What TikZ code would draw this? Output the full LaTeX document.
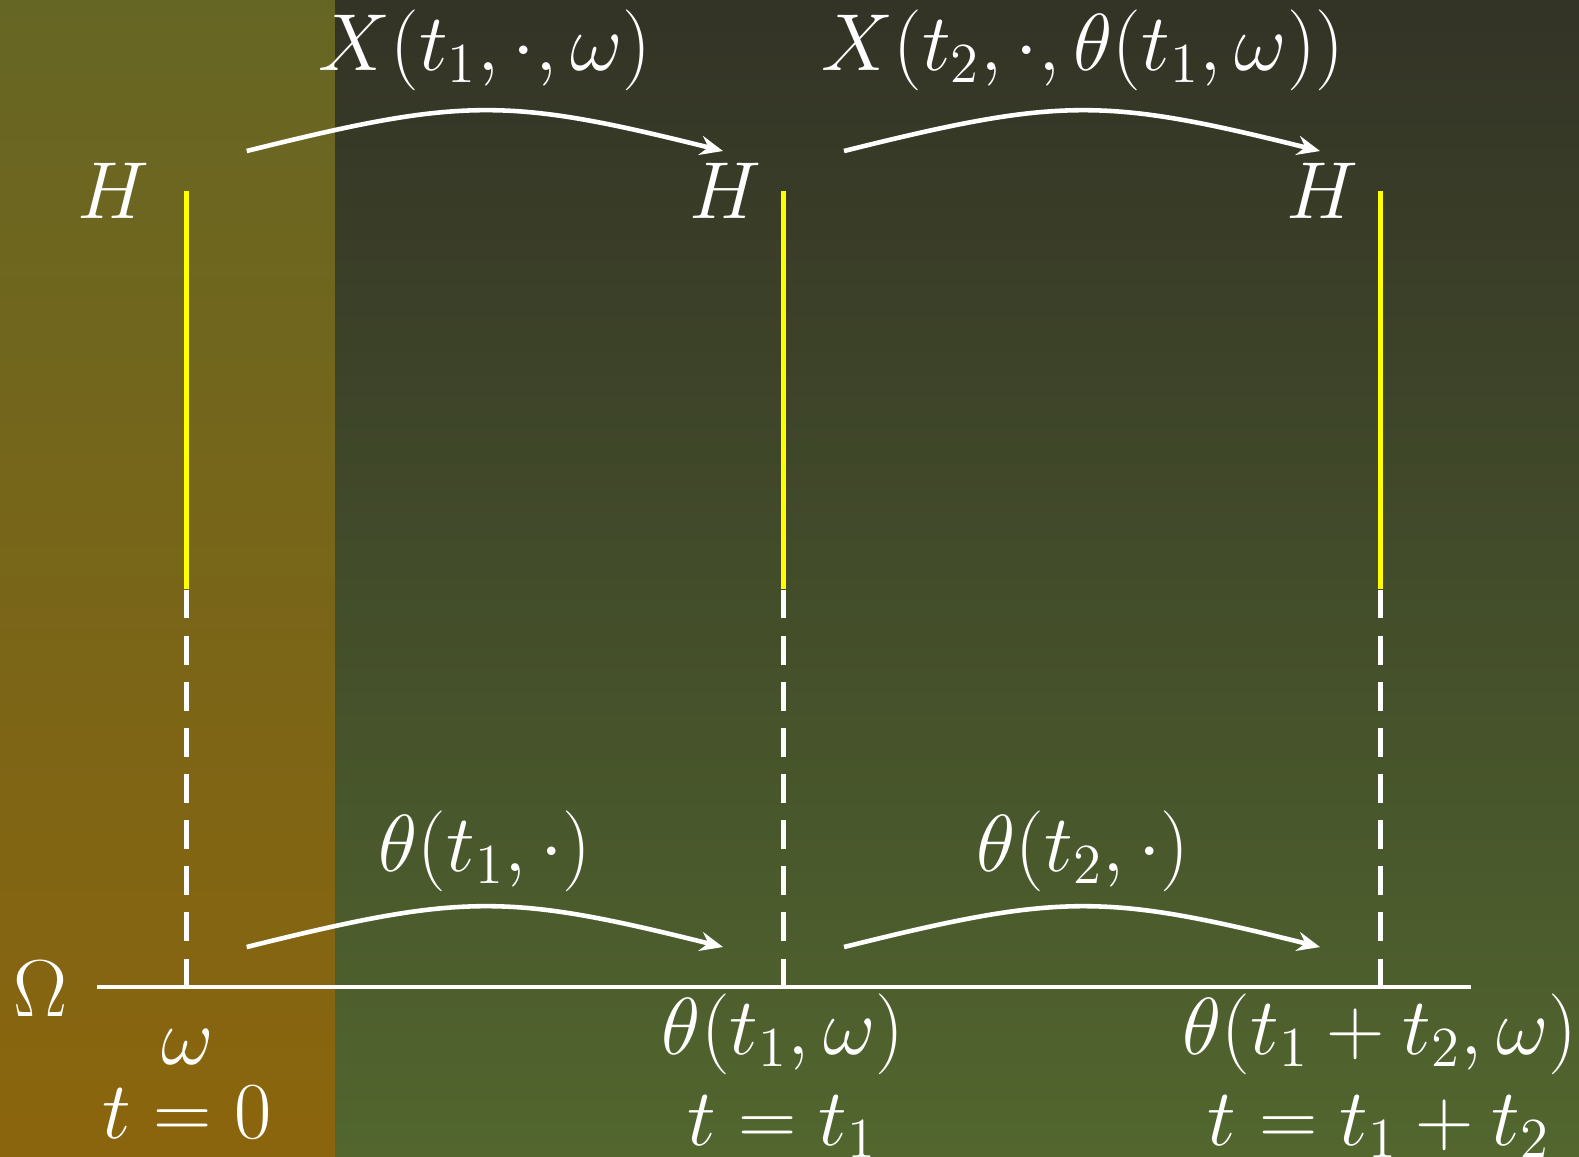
\documentclass[tikz,border=0pt]{standalone}
\usepackage{fix-cm}
\usetikzlibrary{arrows.meta}
\definecolor{lefttop}{RGB}{102,102,36}
\definecolor{leftbot}{RGB}{139,101,13}
\definecolor{righttop}{RGB}{51,51,38}
\definecolor{rightbot}{RGB}{82,102,46}
\definecolor{hyellow}{RGB}{255,255,0}
\tikzset{
  lbl/.style={text=white, font=\fontsize{23}{28}\selectfont, inner sep=0pt},
  fiber/.style={hyellow, line width=1.4pt},
  fiberdash/.style={white, line width=1.4pt, dash pattern=on 8.1pt off 5pt},
  axis/.style={white, line width=1.4pt},
  maparrow/.style={white, line width=1.3pt, -{Stealth[length=6.5pt,width=5.5pt,inset=2.2pt]}, out=14, in=166, looseness=1.2}
}
\begin{document}
\begin{tikzpicture}[x={(0.01cm,0)}, y={(0,-0.01cm)}]
\useasboundingbox (0,0) rectangle (1579,1156);
\shade[top color=lefttop, bottom color=leftbot] (0,0) rectangle (335,1156);
\shade[top color=righttop, bottom color=rightbot] (335,0) rectangle (1579,1156);

% fibers
\foreach \n/\x in {a/186.3, b/783.5, c/1380.6}{
  \coordinate (\n top) at (\x,191);
  \coordinate (\n mid) at (\x,589);
  \coordinate (\n bot) at (\x,987);
  \draw[fiber] (\n top) -- (\n mid);
  \draw[fiberdash] (\n bot) -- (\n mid);
}
% Omega axis
\coordinate (axl) at (97,987);
\coordinate (axr) at (1471,987);
\draw[axis] (axl) -- (axr);

% labels
\node[lbl] (Om) at (40,989) {$\Omega$};
\node[lbl] (H1) at (113,191) {$H$};
\node[lbl] (H2) at (725,191) {$H$};
\node[lbl] (H3) at (1322,191) {$H$};
\node[lbl] (X1) at (485,50) {$X(t_1,\cdot,\omega)$};
\node[lbl] (X2) at (1083,50) {$X(t_2,\cdot,\theta(t_1,\omega))$};
\node[lbl] (T1) at (485,851) {$\theta(t_1,\cdot)$};
\node[lbl] (T2) at (1083,851) {$\theta(t_2,\cdot)$};
\node[lbl] (w0) at (188,1047) {$\omega$};
\node[lbl] (w1) at (783,1034) {$\theta(t_1,\omega)$};
\node[lbl] (w2) at (1380,1034) {$\theta(t_1+t_2,\omega)$};
\node[lbl] (s0) at (187,1112) {$t=0$};
\node[lbl] (s1) at (782,1127) {$t=t_1$};
\node[lbl] (s2) at (1379,1127) {$t=t_1+t_2$};

% arrows
\coordinate (ua1) at (246.7,151);
\coordinate (ub1) at (723,151);
\coordinate (ua2) at (844,151);
\coordinate (ub2) at (1320,151);
\coordinate (la1) at (246.7,947);
\coordinate (lb1) at (723,947);
\coordinate (la2) at (844,947);
\coordinate (lb2) at (1320,947);
\draw[maparrow] (ua1) to (ub1);
\draw[maparrow] (ua2) to (ub2);
\draw[maparrow] (la1) to (lb1);
\draw[maparrow] (la2) to (lb2);
\end{tikzpicture}
\end{document}
